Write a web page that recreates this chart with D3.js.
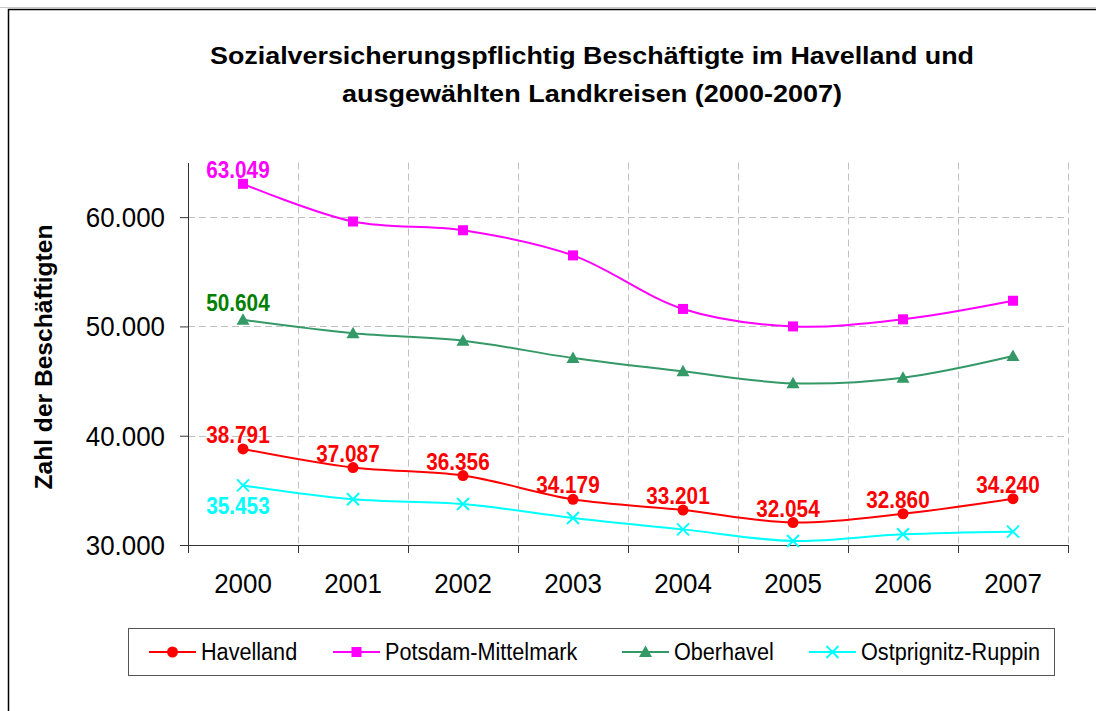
<!DOCTYPE html>
<html>
<head>
<meta charset="utf-8">
<script src="https://cdn.jsdelivr.net/npm/d3@7"></script>
<style>
  body { margin: 0; background: #fff; }
  svg text { font-family: Arial, "Liberation Sans", sans-serif; }
</style>
</head>
<body>
<svg id="chart" width="1096" height="711"></svg>
<script>
const years = ["2000", "2001", "2002", "2003", "2004", "2005", "2006", "2007"];
const havelland = [38791, 37087, 36356, 34179, 33201, 32054, 32860, 34240];
const potsdam = [63049, 59600, 58800, 56500, 51600, 50000, 50650, 52350];
const oberhavel = [50604, 49370, 48690, 47110, 45890, 44790, 45310, 47290];
const ostprignitz = [35453, 34180, 33750, 32470, 31430, 30370, 30980, 31220];
const yTicks = [30000, 40000, 50000, 60000];
const titleLines = ["Sozialversicherungspflichtig Beschäftigte im Havelland und",
    "ausgewählten Landkreisen (2000-2007)"];
const yTitle = "Zahl der Beschäftigten";

const series = [
    {name: "Havelland", values: havelland, color: "#ff0000", labelColor: "#ff0000", marker: "circle", labels: "all"},
    {name: "Potsdam-Mittelmark", values: potsdam, color: "#ff00ff", labelColor: "#ff00ff", marker: "square", labels: "first"},
    {name: "Oberhavel", values: oberhavel, color: "#339966", labelColor: "#008000", marker: "triangle", labels: "first"},
    {name: "Ostprignitz-Ruppin", values: ostprignitz, color: "#00ffff", labelColor: "#00ffff", marker: "cross", labels: "below"}
];

const de = d3.formatLocale({decimal: ",", thousands: ".", grouping: [3], currency: ["", " €"]});
const fmt = de.format(",d");

const svg = d3.select("#chart");

// text in the original is a bit taller than plain Arial at the same width
function squeeze(sel, ratio) {
    sel.each(function () {
        const w = this.getComputedTextLength();
        d3.select(this).attr("textLength", w * ratio).attr("lengthAdjust", "spacingAndGlyphs");
    });
}

// outer frame
svg.append("line").attr("x1", 0).attr("x2", 1096).attr("y1", 7.5).attr("y2", 7.5)
    .attr("stroke", "#c8c8c8").attr("stroke-width", 1);
svg.append("rect").attr("x", 8.5).attr("y", 9.5).attr("width", 1100).attr("height", 720)
    .attr("fill", "none").attr("stroke", "#000").attr("stroke-width", 1.5);

// title
svg.append("g").selectAll("text")
    .data(titleLines)
    .join("text")
    .attr("x", 592)
    .attr("y", (d, i) => 64 + i * 38)
    .attr("text-anchor", "middle")
    .attr("font-size", 24)
    .attr("font-weight", "bold")
    .attr("textLength", (d, i) => i === 0 ? 764 : 500)
    .attr("lengthAdjust", "spacingAndGlyphs")
    .text(d => d);

svg.append("text")
    .attr("transform", "translate(52,357) rotate(-90)")
    .attr("text-anchor", "middle")
    .attr("font-size", 23)
    .attr("font-weight", "bold")
    .attr("textLength", 265)
    .attr("lengthAdjust", "spacingAndGlyphs")
    .text(yTitle);

const plot = {left: 188, right: 1068, top: 162.5, bottom: 545};

const x = d3.scaleBand().domain(years).range([plot.left, plot.right]).padding(0);
const y = d3.scaleLinear().domain([30000, 65000]).range([plot.bottom, plot.top]);
const cx = d => x(d) + x.bandwidth() / 2;

// grid
const grid = svg.append("g").attr("stroke", "#c0c0c0").attr("stroke-dasharray", "7,4").attr("stroke-width", 1);
grid.selectAll(".gy")
    .data(yTicks.filter(t => t > 30000))
    .join("line")
    .attr("x1", plot.left).attr("x2", plot.right)
    .attr("y1", d => Math.round(y(d)) + 0.5).attr("y2", d => Math.round(y(d)) + 0.5);
grid.selectAll(".gx")
    .data(years.slice(1).map(d => x(d)).concat([plot.right]))
    .join("line")
    .attr("x1", d => Math.round(d) + 0.5).attr("x2", d => Math.round(d) + 0.5)
    .attr("y1", plot.top).attr("y2", plot.bottom);

// y axis
const yAxis = svg.append("g")
    .attr("transform", `translate(${plot.left},0)`)
    .call(d3.axisLeft(y).tickValues(yTicks).tickFormat(fmt).tickSize(8).tickSizeOuter(0).tickPadding(15));
yAxis.select(".domain").attr("stroke", "#333");
yAxis.selectAll(".tick line").attr("stroke", "#333");
yAxis.selectAll(".tick text").attr("font-size", 27).attr("fill", "#000")
    .attr("font-family", "Arial, 'Liberation Sans', sans-serif").attr("dy", "0.35em")
    .call(squeeze, 0.96);

// x axis: labels centred, ticks on category boundaries
const xAxis = svg.append("g")
    .attr("transform", `translate(0,${plot.bottom})`)
    .call(d3.axisBottom(x).tickSize(0).tickSizeOuter(0).tickPadding(29));
xAxis.select(".domain").attr("stroke", "#333");
xAxis.selectAll(".tick text").attr("font-size", 27).attr("fill", "#000")
    .attr("font-family", "Arial, 'Liberation Sans', sans-serif")
    .call(squeeze, 0.96);
xAxis.selectAll(".bound")
    .data(years.map(d => x(d)).concat([plot.right]))
    .join("line")
    .attr("x1", d => Math.round(d) + 0.5).attr("x2", d => Math.round(d) + 0.5)
    .attr("y1", 0).attr("y2", 8)
    .attr("stroke", "#333");

// markers
function drawMarker(g, type, color) {
    if (type === "circle") {
        g.append("circle").attr("r", 5.5).attr("fill", color);
    } else if (type === "square") {
        g.append("rect").attr("x", -5).attr("y", -5).attr("width", 10).attr("height", 10).attr("fill", color);
    } else if (type === "triangle") {
        g.append("path").attr("d", "M0,-6.5L6.5,5L-6.5,5Z").attr("fill", color);
    } else {
        g.append("path").attr("d", "M-6,-6L6,6M-6,6L6,-6").attr("stroke", color).attr("stroke-width", 2).attr("fill", "none");
    }
}

const line = d3.line()
    .x((d, i) => cx(years[i]))
    .y(d => y(d))
    .curve(d3.curveCatmullRom.alpha(0.5));

const lines = svg.append("g");
series.forEach(s => {
    lines.append("path")
        .attr("d", line(s.values))
        .attr("fill", "none")
        .attr("stroke", s.color)
        .attr("stroke-width", 2);
});

series.forEach(s => {
    const mg = svg.append("g");
    s.values.forEach((v, i) => {
        const g = mg.append("g").attr("transform", `translate(${cx(years[i])},${y(v)})`);
        drawMarker(g, s.marker, s.color);
    });
});

// data labels
const labels = svg.append("g")
    .attr("font-size", 23)
    .attr("font-weight", "bold")
    .attr("text-anchor", "middle");
series.forEach(s => {
    s.values.forEach((v, i) => {
        if (s.labels !== "all" && i > 0) return;
        const below = s.labels === "below";
        labels.append("text")
            .attr("x", cx(years[i]) - 5)
            .attr("y", below ? y(v) + 29 : y(v) - (s.marker === "triangle" ? 9 : 6))
            .attr("fill", s.labelColor)
            .text(fmt(v));
    });
});
labels.selectAll("text").call(squeeze, 0.9);

// legend
const legend = svg.append("g");
legend.append("rect")
    .attr("x", 128.5).attr("y", 628.5).attr("width", 926).attr("height", 47)
    .attr("fill", "#fff").attr("stroke", "#555").attr("stroke-width", 1);
const legendX = [149, 333, 622, 809];
series.forEach((s, i) => {
    const g = legend.append("g").attr("transform", `translate(${legendX[i]},652)`);
    g.append("line").attr("x1", 0).attr("x2", 47).attr("stroke", s.color).attr("stroke-width", 2);
    const m = g.append("g").attr("transform", "translate(23.5,0)");
    drawMarker(m, s.marker, s.color);
    g.append("text")
        .attr("x", 52).attr("y", 8)
        .attr("font-size", 23)
        .attr("fill", "#000")
        .text(s.name)
        .call(squeeze, 0.94);
});
</script>
</body>
</html>
